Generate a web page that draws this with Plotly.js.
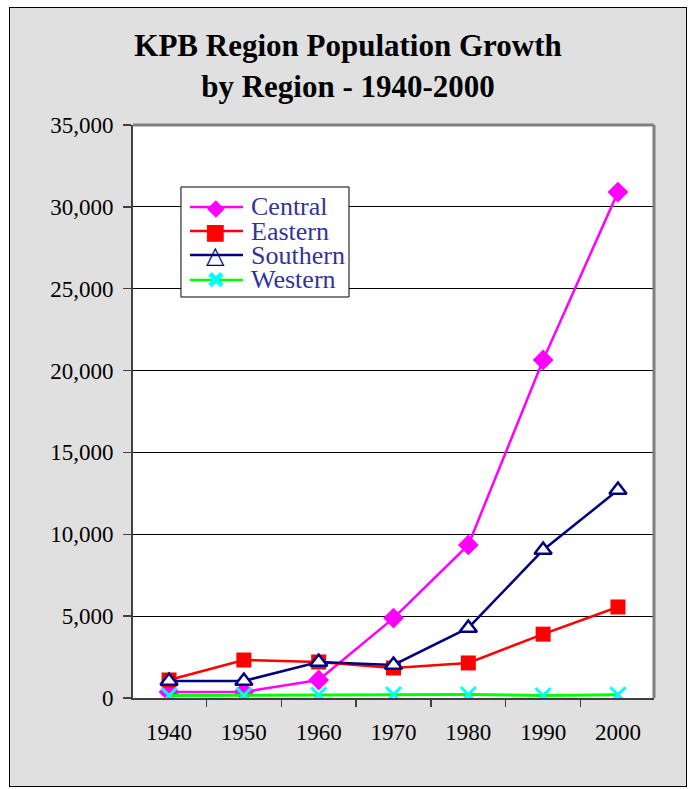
<!DOCTYPE html>
<html>
<head>
<meta charset="utf-8">
<script src="https://cdn.plot.ly/plotly-3.0.1.min.js"></script>
<style>
  html, body { margin: 0; padding: 0; background: #ffffff; width: 691px; height: 789px; overflow: hidden; }
  #chart { position: absolute; left: 9px; top: 7px; width: 676px; height: 778px; border: 1px solid #000; }
</style>
</head>
<body>
<div id="chart"></div>
<script>
const years = ['1940', '1950', '1960', '1970', '1980', '1990', '2000'];
const central = [370, 370, 1100, 4880, 9350, 20650, 30900];
const eastern = [1100, 2320, 2200, 1830, 2140, 3900, 5560];
const southern = [1040, 1040, 2200, 2020, 4280, 9040, 12700];
const western = [150, 170, 190, 210, 210, 150, 200];
const yTicks = [0, 5000, 10000, 15000, 20000, 25000, 30000, 35000];
const seriesNames = ['Central', 'Eastern', 'Southern', 'Western'];
const lineColors = ['#ff00ff', '#ff0000', '#000080', '#00ff00'];
const legendGlyphs = ['\u25C6', '\u25A0', '\u25B3', '\u2716'];
const glyphColors = ['#ff00ff', '#ff0000', '#000080', '#00ffff'];
const glyphSizes = [23, 22, 24, 23];
const glyphWeights = ['normal', 'normal', 'bold', 'normal'];

const SERIF = 'Liberation Serif, Times New Roman, serif';

const traces = [
  { name: seriesNames[0], x: years, y: central, type: 'scatter', mode: 'lines+markers',
    line: { color: lineColors[0], width: 2.5 },
    marker: { symbol: 'diamond', size: 16, color: '#ff00ff' } },
  { name: seriesNames[1], x: years, y: eastern, type: 'scatter', mode: 'lines+markers',
    line: { color: lineColors[1], width: 2.5 },
    marker: { symbol: 'square', size: 15, color: '#ff0000' } },
  { name: seriesNames[2], x: years, y: southern, type: 'scatter', mode: 'lines+markers',
    line: { color: lineColors[2], width: 2.5 },
    marker: { symbol: 'triangle-up', size: 15, color: '#ffffff', line: { color: '#000080', width: 2.5 } } },
  { name: seriesNames[3], x: years, y: western, type: 'scatter', mode: 'lines+markers',
    line: { color: lineColors[3], width: 3 },
    marker: { symbol: 'x-thin', size: 15, color: '#00ffff', line: { color: '#00ffff', width: 3 } } }
];

// custom legend (box, line samples, glyphs, labels) in paper coordinates
const legBox = { x0: 0.0921, x1: 0.4146, y0: 0.6998, y1: 0.8918 };
const rowY = [0.8569, 0.8150, 0.7731, 0.7295];
const lineX0 = 0.1094, lineX1 = 0.2111, glyphX = 0.1593, textX = 0.2246;

const shapes = [
  { type: 'line', xref: 'paper', yref: 'paper', x0: 0, x1: 1, y0: 1, y1: 1,
    line: { color: '#808080', width: 3 } },
  { type: 'line', xref: 'paper', yref: 'paper', x0: 1, x1: 1, y0: 0, y1: 1,
    line: { color: '#808080', width: 3 } },
  { type: 'rect', xref: 'paper', yref: 'paper', x0: legBox.x0, x1: legBox.x1, y0: legBox.y0, y1: legBox.y1,
    fillcolor: '#ffffff', line: { color: '#000000', width: 1 }, layer: 'above' }
];
const annotations = [];
seriesNames.forEach((nm, i) => {
  shapes.push({ type: 'line', xref: 'paper', yref: 'paper', x0: lineX0, x1: lineX1, y0: rowY[i], y1: rowY[i],
    line: { color: lineColors[i], width: 2.5 }, layer: 'above' });
  annotations.push({ xref: 'paper', yref: 'paper', x: glyphX, y: rowY[i], xanchor: 'center', yanchor: 'middle',
    text: legendGlyphs[i], showarrow: false, borderpad: 0,
    font: { family: 'DejaVu Sans', size: glyphSizes[i], color: glyphColors[i], weight: glyphWeights[i] } });
  annotations.push({ xref: 'paper', yref: 'paper', x: textX, y: rowY[i], xanchor: 'left', yanchor: 'middle',
    text: nm, showarrow: false, borderpad: 0,
    font: { family: SERIF, size: 26, color: '#333399' } });
});

const layout = {
  width: 676, height: 778,
  paper_bgcolor: '#e0e0e0',
  plot_bgcolor: '#ffffff',
  margin: { l: 123, r: 32, t: 117, b: 88 },
  font: { family: SERIF, color: '#000' },
  title: {
    text: '<b>KPB Region Population Growth<br>by Region - 1940-2000</b>',
    font: { size: 31, family: SERIF, color: '#000' },
    x: 0.5, xanchor: 'center', y: 0.938, yanchor: 'top'
  },
  showlegend: false,
  xaxis: {
    type: 'category',
    tickson: 'boundaries',
    ticks: 'outside', ticklen: 7, tickcolor: '#404040', tickwidth: 1.5,
    showline: true, linecolor: '#404040', linewidth: 2,
    showgrid: false, zeroline: false,
    tickfont: { size: 23, family: SERIF },
    ticklabelstandoff: 12,
    fixedrange: true
  },
  yaxis: {
    range: [0, 35000],
    tickvals: yTicks,
    tickformat: ',d',
    ticks: 'outside', ticklen: 8, tickcolor: '#404040', tickwidth: 1.5,
    showline: true, linecolor: '#404040', linewidth: 2,
    showgrid: true, gridcolor: '#000000', gridwidth: 1,
    zeroline: false,
    tickfont: { size: 23, family: SERIF },
    ticklabelstandoff: 5,
    fixedrange: true
  },
  shapes: shapes,
  annotations: annotations
};

Plotly.newPlot('chart', traces, layout, { displayModeBar: false, staticPlot: true });
</script>
</body>
</html>
